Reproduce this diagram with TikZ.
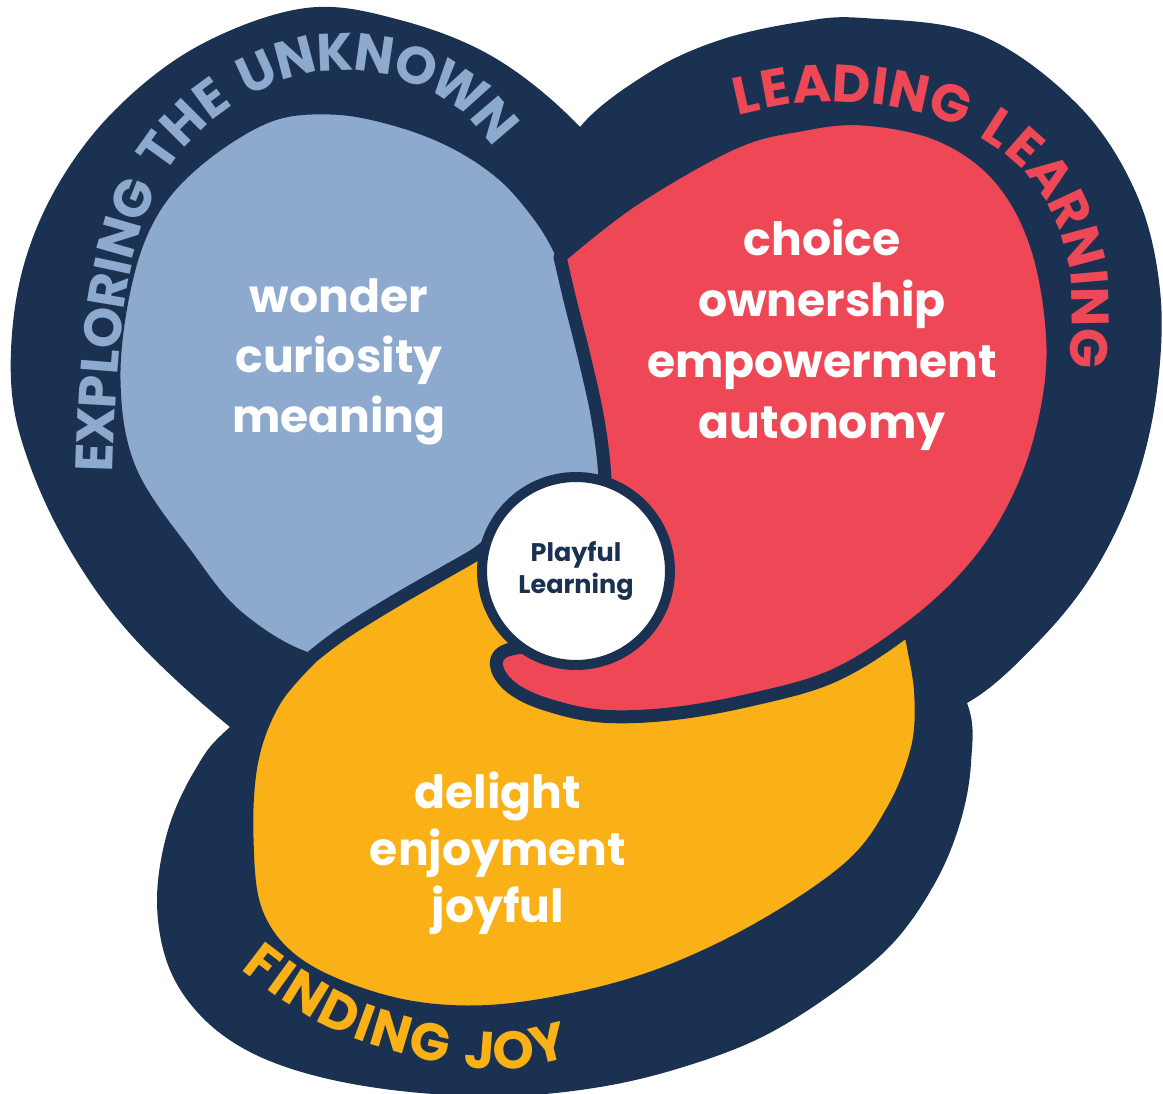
\documentclass[tikz,border=0pt]{standalone}
\usepackage{fontspec}
\newfontfamily\pop{Poppins}
\usetikzlibrary{decorations.markings}
\definecolor{navy}{HTML}{1A3152}
\definecolor{lblue}{HTML}{8DA9CD}
\definecolor{cred}{HTML}{EE4857}
\definecolor{cyel}{HTML}{FAB017}
\tikzset{
  region/.style={draw=navy, line width=7.4pt, line join=round},
  word/.style={font=\pop\bfseries\fontsize{26}{30}\selectfont, text=white, anchor=base, inner sep=0pt},
  arcl/.style={transform shape, anchor=base, inner sep=0pt, font=\pop\bfseries\fontsize{30}{34}\selectfont},
}
\begin{document}
\begin{tikzpicture}[x=0.02cm,y=-0.02cm]
\useasboundingbox (0,0) rectangle (1163,1094);
\fill[white] (0,0) rectangle (1163,1094);
% navy outer lobes
\fill[navy] plot[smooth cycle, tension=0.6] coordinates {(11,380) (20,280) (55,190) (115,110) (200,45) (306,8) (400,20) (495,58) (580,127) (640,210) (665,330) (650,460) (580,600) (450,740) (320,790) (230,727) (133,637) (70,550) (28,460)};
\fill[navy] plot[smooth cycle, tension=0.6] coordinates {(545,200) (580,127) (650,72) (720,40) (800,22) (863,18) (980,35) (1078,105) (1136,193) (1160,290) (1157,390) (1135,485) (1095,570) (1040,640) (967,703) (880,730) (750,730) (620,660) (555,500) (540,330)};
\fill[navy] plot[smooth cycle, tension=0.6] coordinates {(230,727) (195,770) (168,830) (157,900) (168,965) (200,1015) (250,1052) (320,1077) (410,1092) (510,1096) (600,1087) (680,1068) (760,1038) (833,993) (893,943) (935,883) (960,823) (971,763) (967,703) (920,630) (750,600) (500,610) (330,650)};
% blue region
\filldraw[region, fill=lblue] plot[smooth cycle, tension=0.6] coordinates {(114,380) (126,281) (153,210) (200,158) (268,116) (330,108) (390,118) (450,140) (500,172) (535,210) (560,250) (590,320) (620,430) (610,540) (530,615) (420,665) (318,662) (240,619) (187,556) (130,470)};
% yellow region
\filldraw[region, fill=cyel] plot[smooth, tension=0.6] coordinates {(313,656) (275,700) (252,760) (247,838) (257,914) (300,966) (383,1001) (468,1012) (560,1002) (660,975) (760,928) (850,867) (893,810) (917,750) (921,700) (915,655) (905,625) (870,600) (760,640) (650,660) (590,610) (545,545) (500,540) (470,558) (400,598) (345,632) (313,656)} -- cycle;
% red region
\filldraw[region, fill=cred] plot[smooth, tension=0.6] coordinates {(560,257) (633,200) (733,143) (800,125) (863,119) (940,135) (1000,178) (1038,250) (1053,350) (1040,440) (1010,515) (967,576) (907,630) (833,676) (750,700) (670,714) (600,716) (545,704) (512,688) (497,668) (503,652) (540,640) (585,600) (603,540) (605,480) (598,420) (585,360) (570,300) (560,257)} -- cycle;
% centre circle
\node[circle, fill=white, draw=navy, line width=5.7pt, minimum size=3.76cm, inner sep=0pt, align=center,
      font=\pop\bfseries\fontsize{14.5}{18}\selectfont, text=navy] (pl) at (576,571) {Playful\\Learning};
% words
\node[word] (w1) at (339,313) {wonder};
\node[word] (w2) at (339,373) {curiosity};
\node[word] (w3) at (339,433) {meaning};
\node[word] (r1) at (822,256) {choice};
\node[word] (r2) at (822,317) {ownership};
\node[word] (r3) at (822,378) {empowerment};
\node[word] (r4) at (822,439) {autonomy};
\node[word] (y1) at (498,808) {delight};
\node[word] (y2) at (498,865) {enjoyment};
\node[word] (y3) at (498,922) {joyful};
% curved titles
\path[decoration={markings,
  mark=at position 0.0193 with {\node[arcl,text=lblue]{E};},
  mark=at position 0.0655 with {\node[arcl,text=lblue]{X};},
  mark=at position 0.1134 with {\node[arcl,text=lblue]{P};},
  mark=at position 0.1566 with {\node[arcl,text=lblue]{L};},
  mark=at position 0.2051 with {\node[arcl,text=lblue]{O};},
  mark=at position 0.2577 with {\node[arcl,text=lblue]{R};},
  mark=at position 0.2932 with {\node[arcl,text=lblue]{I};},
  mark=at position 0.3328 with {\node[arcl,text=lblue]{N};},
  mark=at position 0.3889 with {\node[arcl,text=lblue]{G};},
  mark=at position 0.4617 with {\node[arcl,text=lblue]{T};},
  mark=at position 0.5113 with {\node[arcl,text=lblue]{H};},
  mark=at position 0.5605 with {\node[arcl,text=lblue]{E};},
  mark=at position 0.6312 with {\node[arcl,text=lblue]{U};},
  mark=at position 0.6858 with {\node[arcl,text=lblue]{N};},
  mark=at position 0.7380 with {\node[arcl,text=lblue]{K};},
  mark=at position 0.7901 with {\node[arcl,text=lblue]{N};},
  mark=at position 0.8467 with {\node[arcl,text=lblue]{O};},
  mark=at position 0.9112 with {\node[arcl,text=lblue]{W};},
  mark=at position 0.9747 with {\node[arcl,text=lblue]{N};}
  }, decorate]
  plot[smooth, tension=0.6] coordinates {(113,472) (117,380) (126,295) (142,228) (167,172) (205,127) (255,93) (312,73) (370,72) (420,87) (462,112) (493,146)};
\path[decoration={markings,
  mark=at position 0.0235 with {\node[arcl,text=cred]{L};},
  mark=at position 0.0817 with {\node[arcl,text=cred]{E};},
  mark=at position 0.1484 with {\node[arcl,text=cred]{A};},
  mark=at position 0.2224 with {\node[arcl,text=cred]{D};},
  mark=at position 0.2770 with {\node[arcl,text=cred]{I};},
  mark=at position 0.3324 with {\node[arcl,text=cred]{N};},
  mark=at position 0.4105 with {\node[arcl,text=cred]{G};},
  mark=at position 0.5097 with {\node[arcl,text=cred]{L};},
  mark=at position 0.5678 with {\node[arcl,text=cred]{E};},
  mark=at position 0.6346 with {\node[arcl,text=cred]{A};},
  mark=at position 0.7041 with {\node[arcl,text=cred]{R};},
  mark=at position 0.7758 with {\node[arcl,text=cred]{N};},
  mark=at position 0.8313 with {\node[arcl,text=cred]{I};},
  mark=at position 0.8867 with {\node[arcl,text=cred]{N};},
  mark=at position 0.9648 with {\node[arcl,text=cred]{G};}
  }, decorate]
  plot[smooth, tension=0.6] coordinates {(738,115) (800,103) (860,103) (920,113) (975,135) (1020,168) (1050,210) (1068,260) (1072,310) (1070,365)};
\path[decoration={markings,
  mark=at position 0.0363 with {\node[arcl,text=cyel]{F};},
  mark=at position 0.1071 with {\node[arcl,text=cyel]{I};},
  mark=at position 0.1918 with {\node[arcl,text=cyel]{N};},
  mark=at position 0.3069 with {\node[arcl,text=cyel]{D};},
  mark=at position 0.3902 with {\node[arcl,text=cyel]{I};},
  mark=at position 0.4749 with {\node[arcl,text=cyel]{N};},
  mark=at position 0.5926 with {\node[arcl,text=cyel]{G};},
  mark=at position 0.7448 with {\node[arcl,text=cyel]{J};},
  mark=at position 0.8473 with {\node[arcl,text=cyel]{O};},
  mark=at position 0.9577 with {\node[arcl,text=cyel]{Y};}
  }, decorate]
  plot[smooth, tension=0.6] coordinates {(242,970) (290,1005) (345,1035) (410,1056) (470,1068) (520,1068) (567,1058)};
\end{tikzpicture}
\end{document}
